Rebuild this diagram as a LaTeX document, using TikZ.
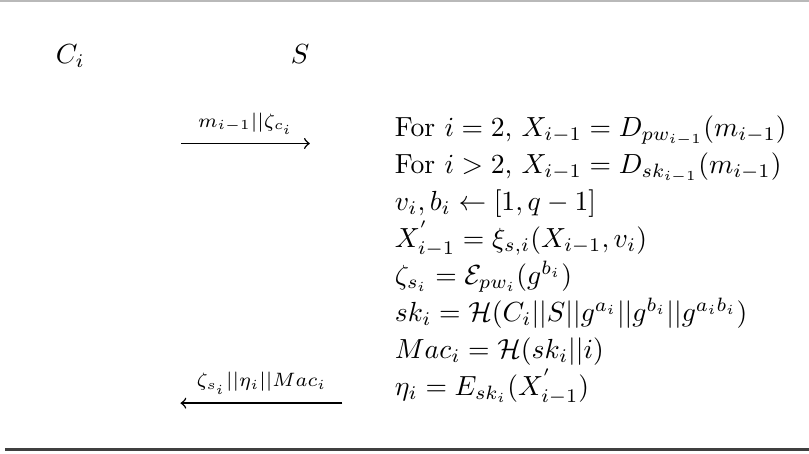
\documentclass[tikz,border=0pt]{standalone}
\usepackage{amsmath}
\usetikzlibrary{positioning}
\tikzset{
  party/.style={anchor=base, inner sep=0pt},
  step line/.style={anchor=base west, inner sep=0pt},
  msg/.style={->, line width=0.55pt},
  msglabel/.style={above=3pt, inner sep=0pt, font=\scriptsize}
}
\begin{document}
\begin{tikzpicture}[>=to, x=1.12cm, y=1.12cm]
  \useasboundingbox (0,0) rectangle (9.19,5.15);

  % Rules
  \draw[gray!55, line width=0.5pt] (0,5.14) -- (9.19,5.14);
  \draw[black!75, line width=1.1pt] (0.06,0.045) -- (9.19,0.045);

  % Parties
  \node[party] (client) at (0.80,4.43) {$C_i$};
  \node[party] (server) at (3.41,4.43) {$S$};

  % Server steps
  \node[step line] (l1) at (4.48,3.602) {For $i = 2$, $X_{i-1} = D_{pw_{i-1}}(m_{i-1})$};
  \node[step line] (l2) at (4.48,3.182) {For $i > 2$, $X_{i-1} = D_{sk_{i-1}}(m_{i-1})$};
  \node[step line] (l3) at (4.48,2.761) {$v_i, b_i \leftarrow [1, q-1]$};
  \node[step line] (l4) at (4.48,2.341) {$X^{'}_{i-1} = \xi_{s,i}(X_{i-1}, v_i)$};
  \node[step line] (l5) at (4.48,1.920) {$\zeta_{s_i} = \mathcal{E}_{pw_i}(g^{b_i})$};
  \node[step line] (l6) at (4.48,1.500) {$sk_i = \mathcal{H}(C_i||S||g^{a_i}||g^{b_i}||g^{a_i b_i})$};
  \node[step line] (l7) at (4.48,1.080) {$Mac_i = \mathcal{H}(sk_i||i)$};
  \node[step line] (l8) at (4.48,0.659) {$\eta_i = E_{sk_i}(X^{'}_{i-1})$};

  % Messages
  \coordinate (m1s) at (2.06,3.52);
  \coordinate (m1e) at (3.52,3.52);
  \draw[msg] (m1s) -- (m1e) node[midway, msglabel] {$m_{i-1}||\zeta_{c_i}$};

  \coordinate (m2s) at (3.89,0.57);
  \coordinate (m2e) at (2.05,0.57);
  \draw[msg] (m2s) -- (m2e) node[midway, msglabel] {$\zeta_{s_i}||\eta_i||Mac_i$};
\end{tikzpicture}
\end{document}
